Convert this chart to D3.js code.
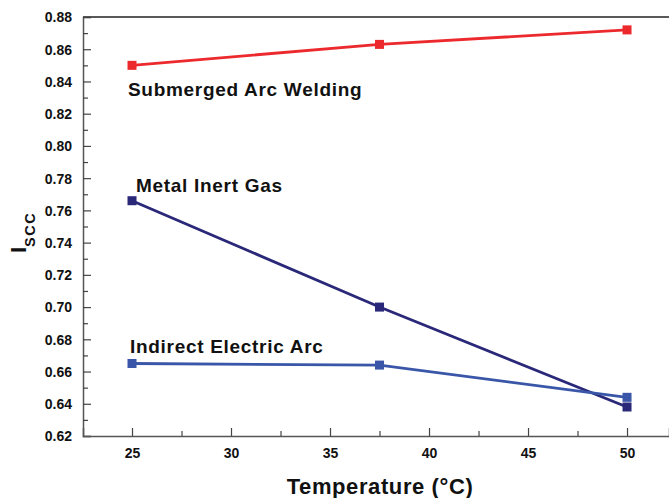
<!DOCTYPE html>
<html><head><meta charset="utf-8">
<script src="https://cdn.jsdelivr.net/npm/d3@7"></script>
<style>body{margin:0;background:#fff}svg{display:block}text{font-family:"Liberation Sans",Arial,sans-serif;font-weight:bold}</style>
</head><body>
<svg id="c" width="669" height="498"></svg>
<script>
const temps = [25, 37.5, 50];
const submerged = [0.850, 0.863, 0.872];
const mig = [0.766, 0.700, 0.638];
const indirect = [0.665, 0.664, 0.644];
const xTicks = [25, 30, 35, 40, 45, 50];
const yTicks = [0.62,0.64,0.66,0.68,0.70,0.72,0.74,0.76,0.78,0.80,0.82,0.84,0.86,0.88];
const seriesNames = ["Submerged Arc Welding", "Metal Inert Gas", "Indirect Electric Arc"];

const svg = d3.select("#c");
const x = d3.scaleLinear().domain([22.525, 52.12]).range([83, 669]);
const y = d3.scaleLinear().domain([0.62, 0.88]).range([436, 17]);

// top border
svg.append("line").attr("x1",83).attr("x2",669).attr("y1",17).attr("y2",17).attr("stroke","#222").attr("stroke-width",1.5);

// y axis
const yAx = svg.append("g").attr("transform","translate(83,0)")
  .call(d3.axisLeft(y).tickValues(yTicks).tickSize(-8).tickPadding(11).tickFormat(d3.format(".2f")));
yAx.select(".domain").attr("stroke","#555").attr("stroke-width",1.5);
yAx.selectAll(".tick line").attr("stroke","#444").attr("stroke-width",1.2);
yAx.selectAll("text").attr("font-size",14).attr("fill","#111").attr("dy","0.35em");
const yMinor = svg.append("g").attr("transform","translate(83,0)")
  .call(d3.axisLeft(y).tickValues(d3.range(0.63,0.88,0.02)).tickSize(-5).tickFormat(""));
yMinor.select(".domain").remove();
yMinor.selectAll("line").attr("stroke","#444").attr("stroke-width",1.2);

// x axis
const xAx = svg.append("g").attr("transform","translate(0,436)")
  .call(d3.axisBottom(x).tickValues(xTicks).tickSize(-8).tickPadding(12).tickFormat(d3.format("d")));
xAx.select(".domain").attr("stroke","#555").attr("stroke-width",1.5);
xAx.selectAll(".tick line").attr("stroke","#444").attr("stroke-width",1.2);
xAx.selectAll("text").attr("font-size",14).attr("fill","#111");
const xMinor = svg.append("g").attr("transform","translate(0,436)")
  .call(d3.axisBottom(x).tickValues([27.5,32.5,37.5,42.5,47.5]).tickSize(-5).tickFormat(""));
xMinor.select(".domain").remove();
xMinor.selectAll("line").attr("stroke","#444").attr("stroke-width",1.2);

const series = [
  {vals: submerged, color: "#ec2a2e"},
  {vals: mig, color: "#2a2878"},
  {vals: indirect, color: "#3a56a8"}
];
const line = d3.line().x((d,i)=>x(temps[i])).y(d=>y(d));
series.forEach(s=>{
  svg.append("path").datum(s.vals).attr("d",line).attr("fill","none").attr("stroke",s.color).attr("stroke-width",2.8);
  svg.selectAll(null).data(s.vals).enter().append("rect")
    .attr("x",(d,i)=>x(temps[i])-4.5).attr("y",d=>y(d)-4.5).attr("width",9).attr("height",9).attr("fill",s.color);
});

// series labels
const labelPos = [[128,96],[136,192],[130,353]];
seriesNames.forEach((n,i)=>{
  svg.append("text").attr("x",labelPos[i][0]).attr("y",labelPos[i][1]).attr("font-size",19)
    .attr("letter-spacing",0.7).attr("fill","#111").text(n);
});

// axis titles
svg.append("text").attr("x",380).attr("y",494).attr("text-anchor","middle").attr("font-size",22)
  .attr("letter-spacing",0.6).attr("fill","#111").text("Temperature (°C)");
const yt = svg.append("text").attr("transform","translate(26,253) rotate(-90)").attr("text-anchor","start").attr("fill","#111");
yt.append("tspan").attr("font-size",22).text("I");
yt.append("tspan").attr("font-size",14.5).attr("dy",9).attr("letter-spacing",1.5).text("SCC");
</script>
</body></html>
